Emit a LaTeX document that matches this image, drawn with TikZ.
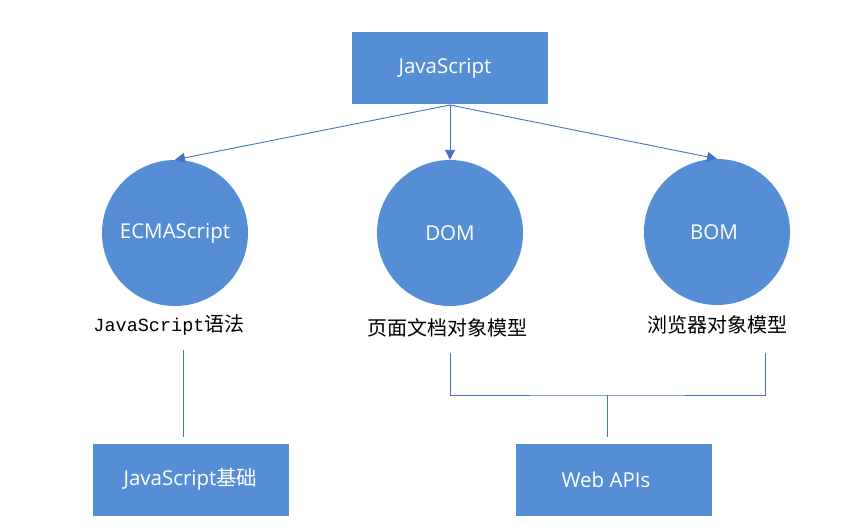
\documentclass[tikz,border=0pt]{standalone}
\usepackage{fontspec}
\setmainfont{Open Sans}
\setmonofont{Liberation Mono}
\newfontfamily\cjk{Noto Sans CJK SC}
\usetikzlibrary{arrows.meta}
\definecolor{boxblue}{HTML}{558ED5}
\definecolor{linkblue}{HTML}{4472C4}
\tikzset{
  x=1pt, y=-1pt,
  boxnode/.style={fill=boxblue, draw=none, minimum width=196pt, minimum height=72pt,
    text=white, font=\fontsize{20.5}{22}\selectfont, inner sep=0pt},
  ballnode/.style={circle, fill=boxblue, draw=none, minimum size=146pt,
    text=white, font=\fontsize{20.5}{22}\selectfont, inner sep=0pt},
  inlabel/.style={label={[text=white, font=\fontsize{20.5}{22}\selectfont, xshift=#1]center:}},
  caption/.style={font=\cjk\fontsize{20}{22}\selectfont, inner sep=0pt},
  link/.style={draw=linkblue, line width=0.9pt},
  arrowlink/.style={link, -{Triangle[length=10pt, width=10pt]}},
}
\begin{document}
\begin{tikzpicture}
\useasboundingbox (0,0) rectangle (858,525);
% top level
\node[boxnode, label={[text=white, font=\fontsize{20.5}{22}\selectfont, xshift=-5pt]center:JavaScript}] (js) at (450,68) {};
% three parts
\node[ballnode] (ecma) at (175,233) {ECMAScript};
\node[ballnode] (dom) at (450,233) {DOM};
\node[ballnode, label={[text=white, font=\fontsize{20.5}{22}\selectfont, xshift=-3pt]center:BOM}] (bom) at (717,232) {};
% captions
\node[caption] (ecmat) at (169,325) {{\ttfamily\fontsize{18.5}{20}\selectfont JavaScript}语法};
\node[caption] (domt) at (447,328) {页面文档对象模型};
\node[caption] (bomt) at (717,325) {浏览器对象模型};
% courses
\node[boxnode] (basic) at (190.5,479.5) {JavaScript{\cjk 基础}};
\node[boxnode, label={[text=white, font=\fontsize{20.5}{22}\selectfont, xshift=-8pt]center:Web APIs}] (api) at (614,480) {};
% arrows from the root
\coordinate (src) at (450,105);
\draw[arrowlink] (src) -- (ecma.north);
\draw[arrowlink] (src) -- (dom.north);
\draw[arrowlink] (src) -- (bom.north);
% connectors to the courses
\coordinate (lt) at (183,350);
\coordinate (lb) at (183,437);
\draw[link] (lt) -- (lb);
\coordinate (da) at (450,353);
\coordinate (ba) at (765,353);
\coordinate (mid) at (607,395);
\coordinate (ab) at (607,437);
\draw[link] (da) |- (mid) -| (ba);
\draw[link] (mid) -- (ab);
\end{tikzpicture}
\end{document}
